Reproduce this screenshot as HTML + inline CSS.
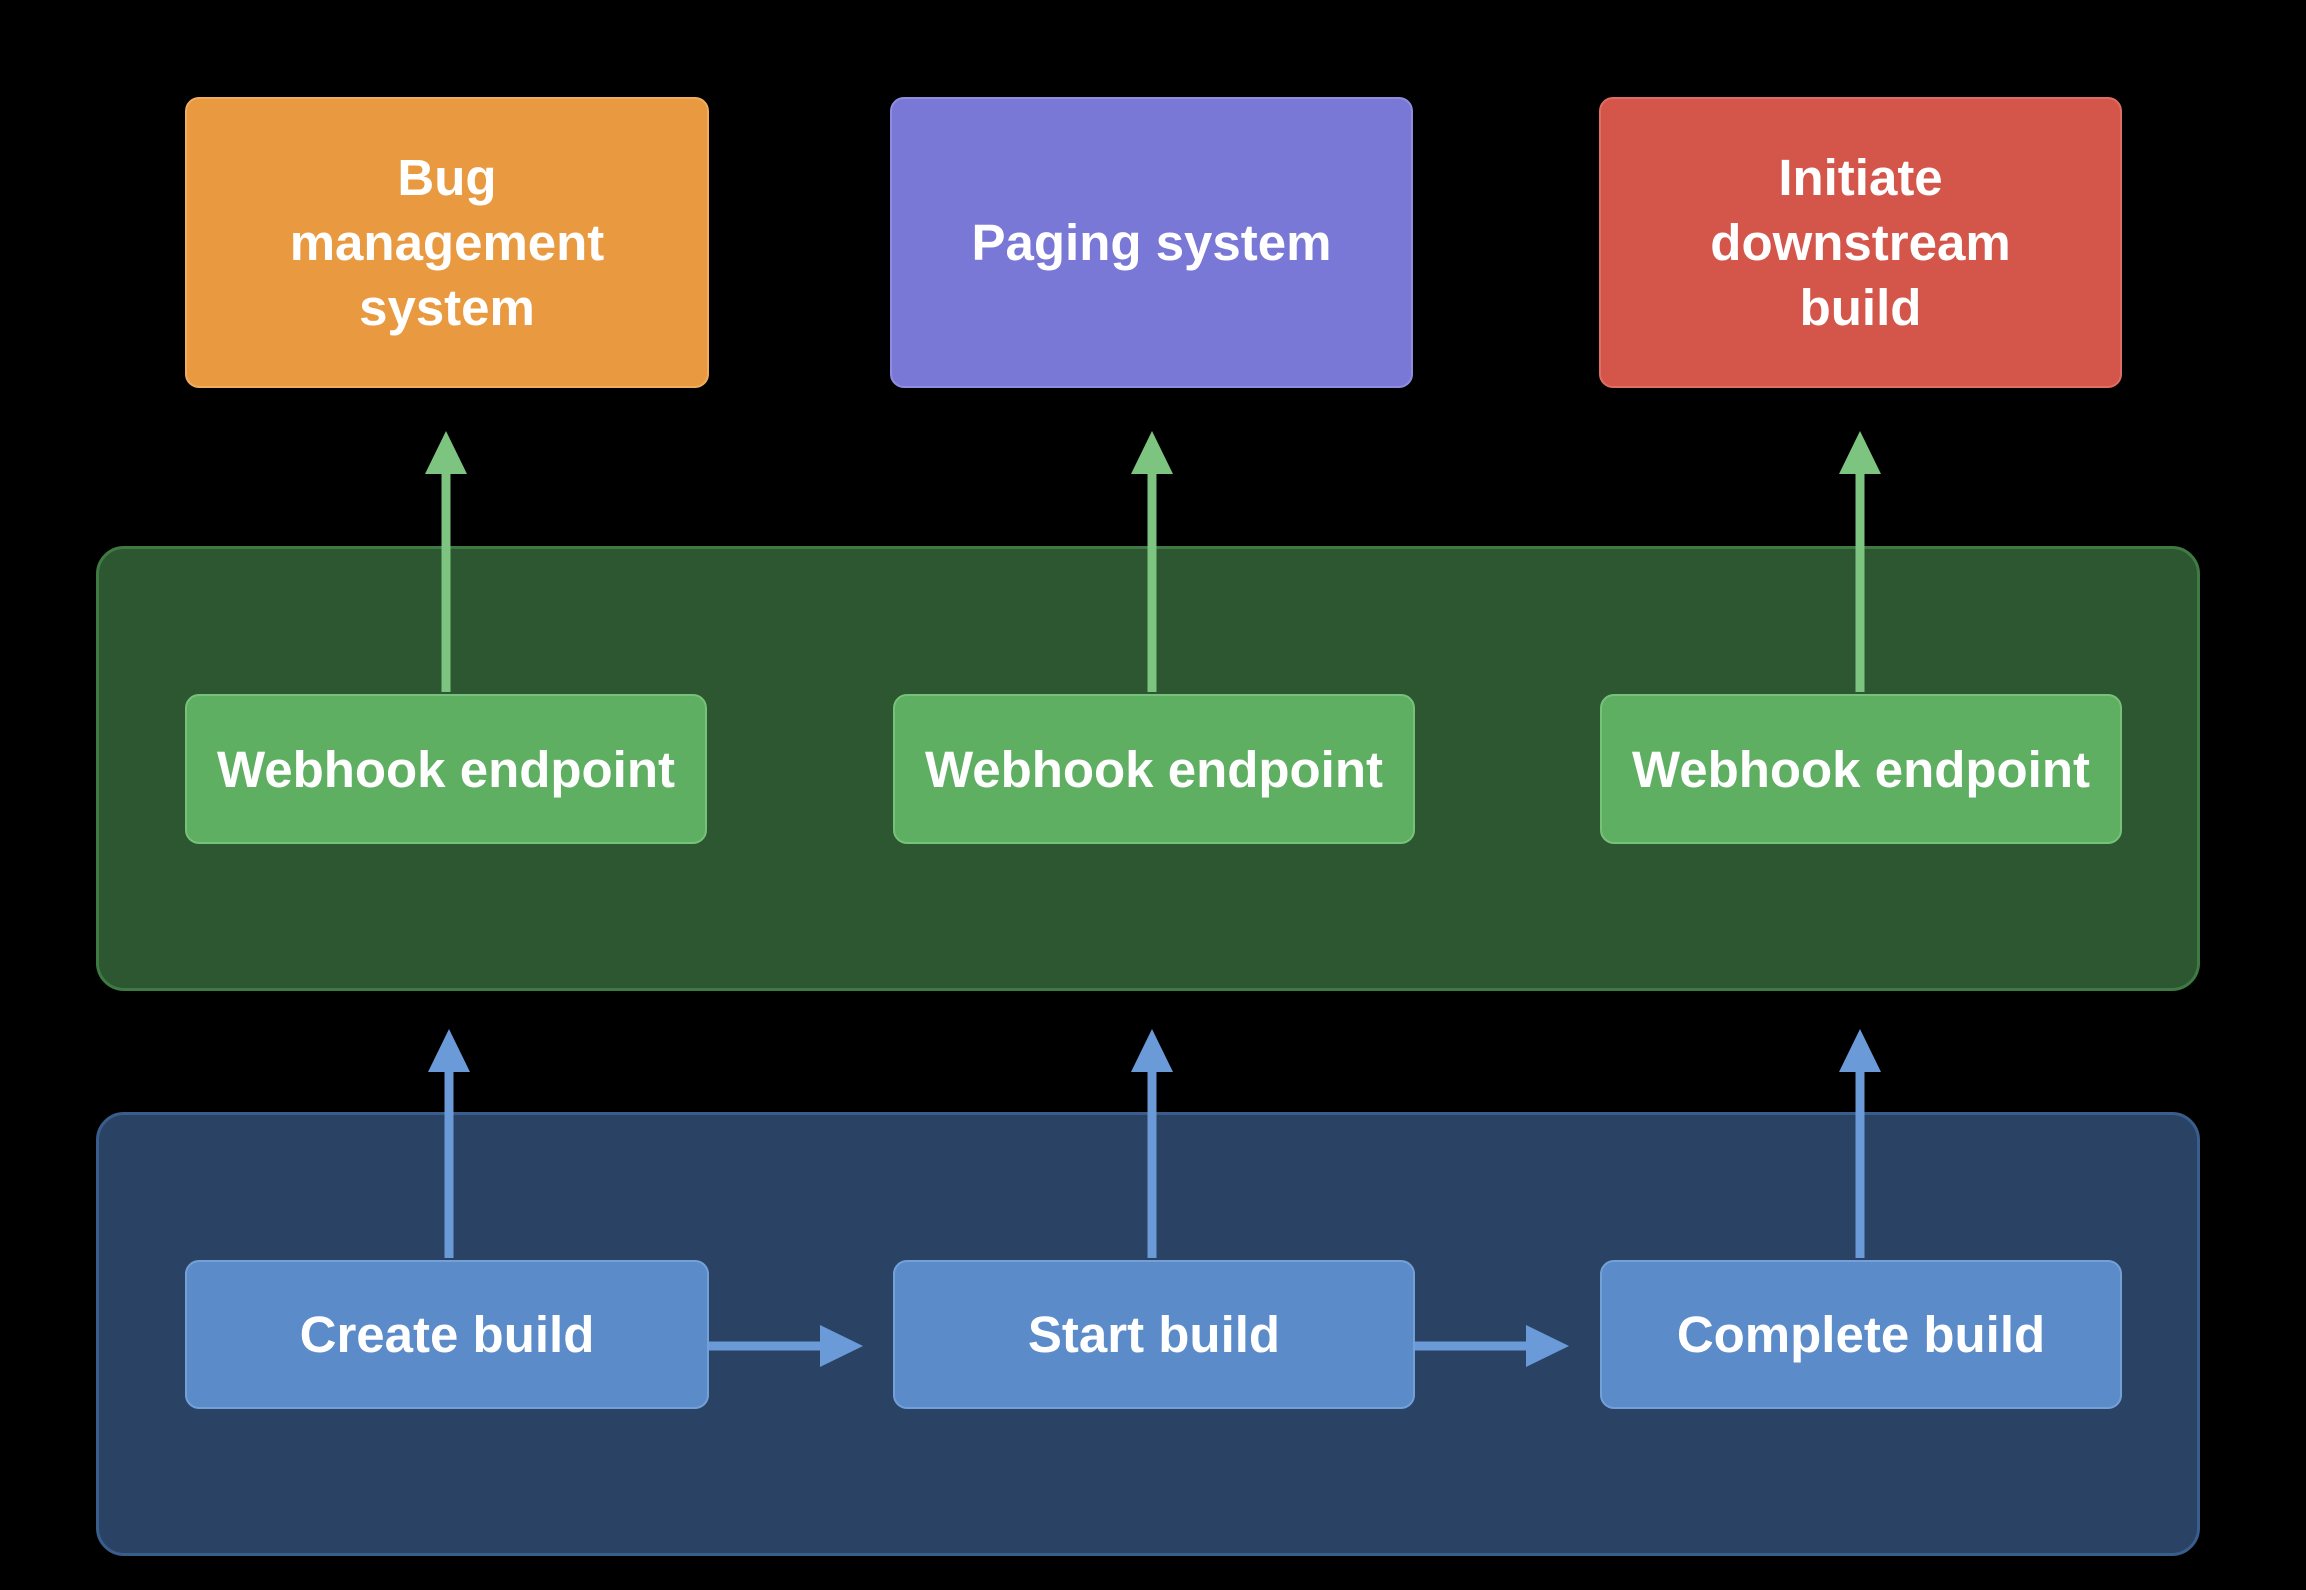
<!DOCTYPE html>
<html><head><meta charset="utf-8"><style>
html,body{margin:0;padding:0;background:#000;}
body{width:2306px;height:1590px;position:relative;overflow:hidden;font-family:"Liberation Sans",sans-serif;}
.b{position:absolute;box-sizing:border-box;display:flex;align-items:center;justify-content:center;text-align:center;color:#fff;font-weight:bold;font-size:51px;line-height:65px;border-radius:14px;}
.c{position:absolute;box-sizing:border-box;border-radius:28px;}
svg{position:absolute;left:0;top:0;}
</style></head><body>
<div class="c" style="left:96px;top:546px;width:2104px;height:445px;background:#2d5731;border:3px solid #3e7a41;"></div>
<div class="c" style="left:96px;top:1112px;width:2104px;height:444px;background:#2a4364;border:3px solid #3a5e8c;"></div>

<div class="b" style="left:185px;top:97px;width:524px;height:291px;background:#e99a41;border:2px solid #f0ad60;">Bug<br>management<br>system</div>
<div class="b" style="left:890px;top:97px;width:523px;height:291px;background:#7a78d6;border:2px solid #8f8de0;">Paging system</div>
<div class="b" style="left:1599px;top:97px;width:523px;height:291px;background:#d4564b;border:2px solid #e06d62;">Initiate<br>downstream<br>build</div>

<div class="b" style="left:185px;top:694px;width:522px;height:150px;background:#5faf63;border:2px solid #77c27a;">Webhook endpoint</div>
<div class="b" style="left:893px;top:694px;width:522px;height:150px;background:#5faf63;border:2px solid #77c27a;">Webhook endpoint</div>
<div class="b" style="left:1600px;top:694px;width:522px;height:150px;background:#5faf63;border:2px solid #77c27a;">Webhook endpoint</div>

<div class="b" style="left:185px;top:1260px;width:524px;height:149px;background:#5b8bc9;border:2px solid #74a0d8;">Create build</div>
<div class="b" style="left:893px;top:1260px;width:522px;height:149px;background:#5b8bc9;border:2px solid #74a0d8;">Start build</div>
<div class="b" style="left:1600px;top:1260px;width:522px;height:149px;background:#5b8bc9;border:2px solid #74a0d8;">Complete build</div>

<svg width="2306" height="1590">
<g stroke="#7cc47f" stroke-width="9" fill="#7cc47f">
<line x1="446" y1="692" x2="446" y2="470"/><polygon stroke="none" points="446,431 425,474 467,474"/>
<line x1="1152" y1="692" x2="1152" y2="470"/><polygon stroke="none" points="1152,431 1131,474 1173,474"/>
<line x1="1860" y1="692" x2="1860" y2="470"/><polygon stroke="none" points="1860,431 1839,474 1881,474"/>
</g>
<g stroke="#6a9ad8" stroke-width="9" fill="#6a9ad8">
<line x1="449" y1="1258" x2="449" y2="1068"/><polygon stroke="none" points="449,1029 428,1072 470,1072"/>
<line x1="1152" y1="1258" x2="1152" y2="1068"/><polygon stroke="none" points="1152,1029 1131,1072 1173,1072"/>
<line x1="1860" y1="1258" x2="1860" y2="1068"/><polygon stroke="none" points="1860,1029 1839,1072 1881,1072"/>
<line x1="709" y1="1346" x2="825" y2="1346"/><polygon stroke="none" points="863,1346 820,1325 820,1367"/>
<line x1="1415" y1="1346" x2="1531" y2="1346"/><polygon stroke="none" points="1569,1346 1526,1325 1526,1367"/>
</g>
</svg>
</body></html>
